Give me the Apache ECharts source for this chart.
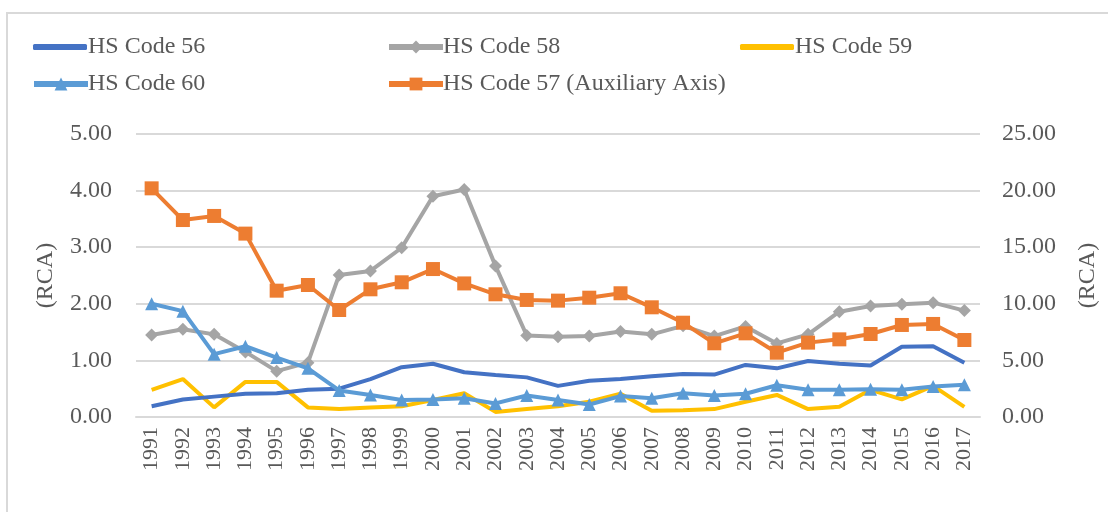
<!DOCTYPE html>
<html>
<head>
<meta charset="utf-8">
<script src="https://cdn.jsdelivr.net/npm/echarts@6/dist/echarts.min.js"></script>
<style>
  html, body { margin: 0; padding: 0; background: #fff; }
  #main { width: 1108px; height: 512px; }
</style>
</head>
<body>
<div id="main"></div>
<script>
// data
var years = ['1991','1992','1993','1994','1995','1996','1997','1998','1999','2000',
             '2001','2002','2003','2004','2005','2006','2007','2008','2009','2010',
             '2011','2012','2013','2014','2015','2016','2017'];
var hs56 = [0.19,0.31,0.36,0.41,0.42,0.48,0.50,0.67,0.88,0.94,0.79,0.74,0.70,0.55,0.64,0.67,0.72,0.76,0.75,0.92,0.86,0.99,0.94,0.91,1.24,1.25,0.96];
var hs58 = [1.45,1.55,1.46,1.15,0.81,0.96,2.51,2.58,2.99,3.90,4.02,2.67,1.44,1.42,1.43,1.51,1.46,1.61,1.43,1.60,1.30,1.46,1.86,1.96,1.99,2.02,1.88];
var hs59 = [0.48,0.67,0.17,0.62,0.62,0.17,0.14,0.17,0.19,0.30,0.42,0.09,0.14,0.19,0.27,0.41,0.11,0.12,0.14,0.27,0.39,0.14,0.18,0.48,0.31,0.55,0.18];
var hs60 = [2.00,1.87,1.11,1.25,1.05,0.86,0.47,0.39,0.30,0.31,0.33,0.24,0.38,0.30,0.22,0.37,0.33,0.42,0.38,0.41,0.56,0.48,0.48,0.49,0.48,0.54,0.57];
var hs57 = [20.2,17.4,17.76,16.2,11.16,11.66,9.45,11.28,11.9,13.07,11.8,10.84,10.34,10.28,10.54,10.93,9.69,8.33,6.51,7.39,5.68,6.57,6.86,7.33,8.13,8.22,6.8];

var font = '"Liberation Serif", serif';
var txt = '#595959';
var myChart = echarts.init(document.getElementById('main'));

// 图例: 每个一个组件, 三列两行
function leg(name, left, top, plain) {
    return {
        data: [plain ? { name: name, icon: 'roundRect' } : name],
        left: left, top: top,
        itemWidth: 54, itemHeight: plain ? 6 : 16, itemGap: 0, padding: 0,
        lineStyle: { width: 6 },
        textStyle: { fontFamily: font, fontSize: 24, color: txt, padding: [0,0,0,plain ? -4 : -5] }
    };
}

var option = {
    backgroundColor: '#fff',
    animation: false,
    graphic: [{
        type: 'rect',
        shape: { x: 7, y: 13, width: 1140, height: 540 },
        style: { fill: 'none', stroke: '#d9d9d9', lineWidth: 2 }
    }],
    legend: [
        leg('HS Code 56', 33, 35, true),
        leg('HS Code 58', 386, 35),
        leg('HS Code 59', 740, 35, true),
        leg('HS Code 60', 31, 72),
        leg('HS Code 57 (Auxiliary Axis)', 386, 72)
    ],
    grid: { left: 136, right: 115, top: 134, bottom: 95 },
    xAxis: {
        type: 'category',
        data: years,
        boundaryGap: true,
        axisLine: { lineStyle: { color: '#d9d9d9', width: 2 } },
        axisTick: { show: false },
        axisLabel: { rotate: 90, margin: 10, fontFamily: font, fontSize: 22, color: txt }
    },
    yAxis: [{
        type: 'value', min: 0, max: 5, interval: 1,
        name: '(RCA)', nameLocation: 'middle', nameGap: 78, nameRotate: 90,
        nameTextStyle: { fontFamily: font, fontSize: 24, color: txt },
        axisLabel: { margin: 24, fontFamily: font, fontSize: 24, color: txt,
            formatter: function (v) { return v.toFixed(2); } },
        axisLine: { show: false }, axisTick: { show: false },
        splitLine: { lineStyle: { color: '#d9d9d9', width: 2 } }
    }, {
        type: 'value', min: 0, max: 25, interval: 5, position: 'right',
        name: '(RCA)', nameLocation: 'middle', nameGap: 96, nameRotate: 90,
        nameTextStyle: { fontFamily: font, fontSize: 24, color: txt },
        axisLabel: { margin: 22, fontFamily: font, fontSize: 24, color: txt,
            formatter: function (v) { return v.toFixed(2); } },
        axisLine: { show: false }, axisTick: { show: false },
        splitLine: { show: false }
    }],
    series: [{
        name: 'HS Code 56', type: 'line', data: hs56, yAxisIndex: 0,
        symbol: 'none', lineStyle: { width: 4, color: '#4472C4' }, itemStyle: { color: '#4472C4' }, z: 3
    }, {
        name: 'HS Code 58', type: 'line', data: hs58, yAxisIndex: 0,
        symbol: 'diamond', symbolSize: 13, lineStyle: { width: 4, color: '#A5A5A5' }, itemStyle: { color: '#A5A5A5' }, z: 2
    }, {
        name: 'HS Code 59', type: 'line', data: hs59, yAxisIndex: 0,
        symbol: 'none', lineStyle: { width: 4, color: '#FFC000' }, itemStyle: { color: '#FFC000' }, z: 2
    }, {
        name: 'HS Code 60', type: 'line', data: hs60, yAxisIndex: 0,
        symbol: 'triangle', symbolSize: 13, lineStyle: { width: 4, color: '#5B9BD5' }, itemStyle: { color: '#5B9BD5' }, z: 4
    }, {
        name: 'HS Code 57 (Auxiliary Axis)', type: 'line', data: hs57, yAxisIndex: 1,
        symbol: 'rect', symbolSize: 14, lineStyle: { width: 4, color: '#ED7D31' }, itemStyle: { color: '#ED7D31' }, z: 5
    }]
};

myChart.setOption(option);
</script>
</body>
</html>
